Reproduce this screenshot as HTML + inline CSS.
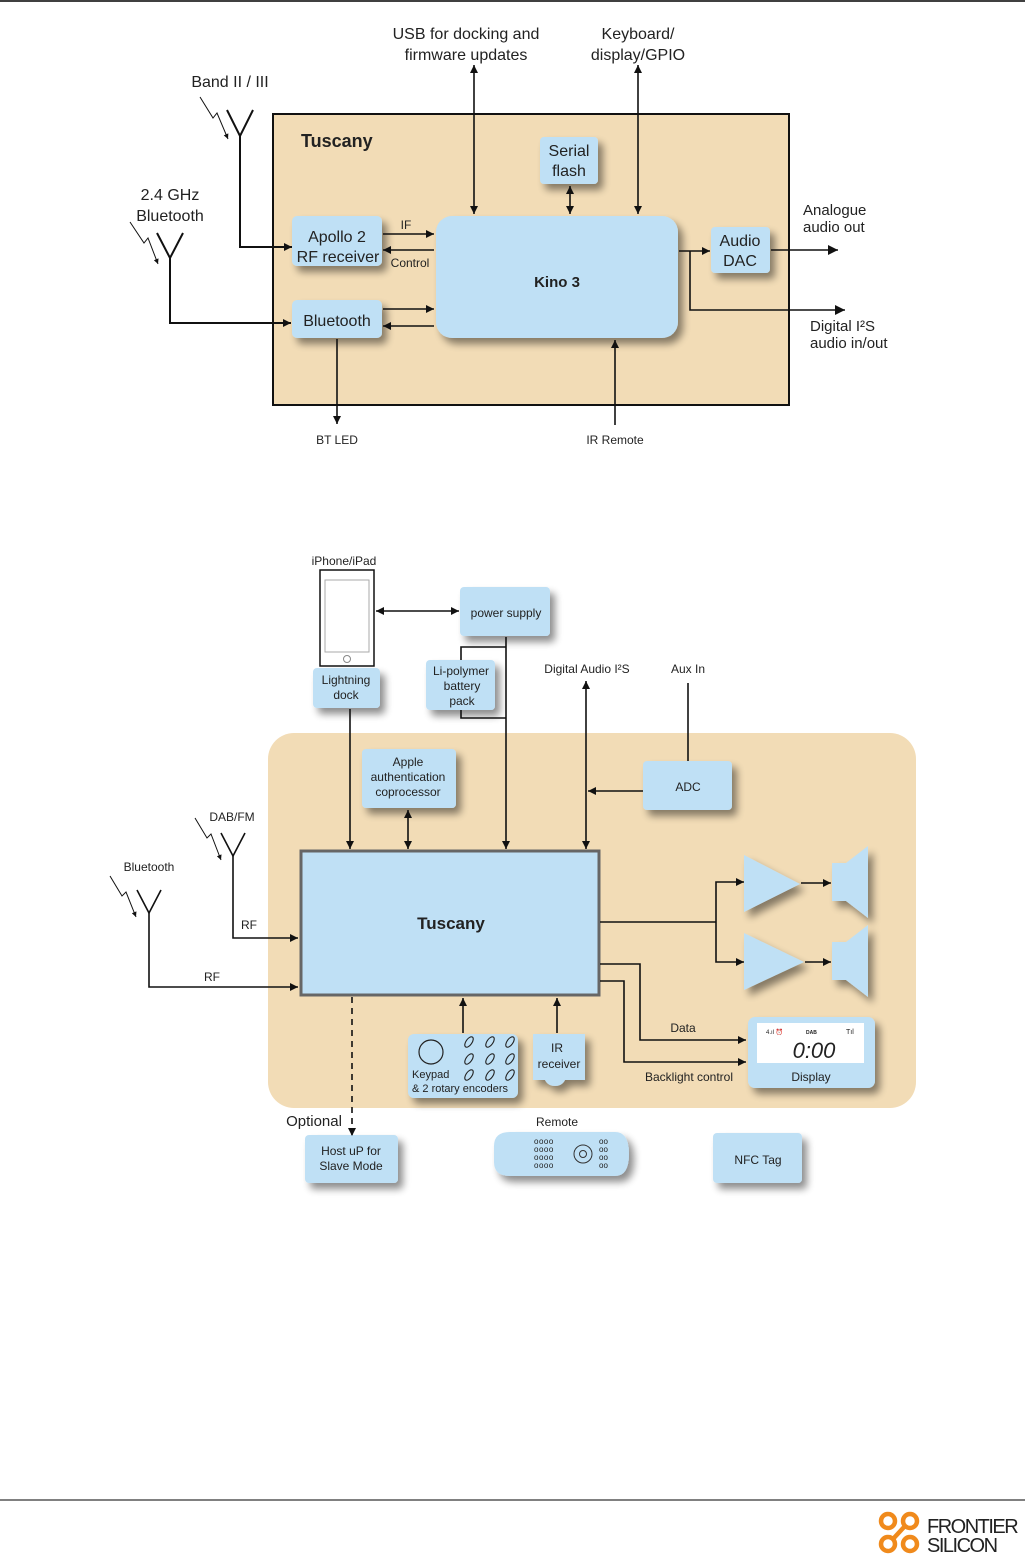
<!DOCTYPE html>
<html><head><meta charset="utf-8"><style>
html,body{margin:0;padding:0;background:#fff}
svg{display:block}
text{font-family:"Liberation Sans",sans-serif;fill:#222}
</style></head><body>
<svg width="1029" height="1555" viewBox="0 0 1029 1555" xmlns="http://www.w3.org/2000/svg">
<defs>
<filter id="sh" x="-30%" y="-30%" width="170%" height="170%">
<feGaussianBlur in="SourceAlpha" stdDeviation="4"/><feOffset dx="5" dy="6" result="b"/>
<feComponentTransfer><feFuncA type="linear" slope="0.45"/></feComponentTransfer>
<feMerge><feMergeNode/><feMergeNode in="SourceGraphic"/></feMerge></filter>
<marker id="a" viewBox="0 0 10 10" refX="10" refY="5" markerWidth="11" markerHeight="8" markerUnits="userSpaceOnUse" orient="auto-start-reverse"><path d="M0,0L10,5L0,10z" fill="#111"/></marker>
<marker id="a2" viewBox="0 0 10 10" refX="10" refY="5" markerWidth="15" markerHeight="10" markerUnits="userSpaceOnUse" orient="auto-start-reverse"><path d="M0,0L10,5L0,10z" fill="#111"/></marker>
<marker id="s" viewBox="0 0 10 10" refX="10" refY="5" markerWidth="7" markerHeight="5" markerUnits="userSpaceOnUse" orient="auto"><path d="M0,0L10,5L0,10z" fill="#111"/></marker>
</defs>
<line x1="0" y1="1" x2="1025" y2="1" stroke="#000" stroke-width="1.5"/>
<line x1="0" y1="1500" x2="1025" y2="1500" stroke="#000" stroke-width="1"/>

<!-- TOP DIAGRAM -->
<rect x="273" y="114" width="516" height="291" fill="#f2dcb6" stroke="#111" stroke-width="2"/>
<text x="301" y="147" font-size="18" font-weight="bold" fill="#111">Tuscany</text>
<g fill="#bfe0f5" filter="url(#sh)">
<rect x="436" y="216" width="242" height="122" rx="16"/>
<rect x="540" y="137" width="58" height="47" rx="4"/>
<rect x="292" y="216" width="90" height="50" rx="5"/>
<rect x="292" y="300" width="90" height="38" rx="5"/>
<rect x="711" y="227" width="59" height="46" rx="4"/>
</g>
<g font-size="16" text-anchor="middle">
<text x="557" y="287" font-weight="bold" font-size="15" fill="#111">Kino 3</text>
<text x="569" y="156">Serial</text><text x="569" y="176">flash</text>
<text x="337" y="242">Apollo 2</text><text x="338" y="262">RF receiver</text>
<text x="337" y="326">Bluetooth</text>
<text x="740" y="246">Audio</text><text x="740" y="266">DAC</text>
<text x="466" y="39">USB for docking and</text><text x="466" y="60">firmware updates</text>
<text x="638" y="39">Keyboard/</text><text x="638" y="60">display/GPIO</text>
<text x="230" y="87">Band II / III</text>
<text x="170" y="200">2.4 GHz</text><text x="170" y="221">Bluetooth</text>
</g>
<g font-size="15">
<text x="803" y="215">Analogue</text><text x="803" y="232">audio out</text>
<text x="810" y="331">Digital I²S</text><text x="810" y="348">audio in/out</text>
</g>
<g font-size="12" text-anchor="middle">
<text x="406" y="229">IF</text><text x="410" y="267">Control</text>
<text x="337" y="444">BT LED</text><text x="615" y="444">IR Remote</text>
</g>
<g stroke="#111" stroke-width="1.6" fill="none">
<line x1="474" y1="65" x2="474" y2="214" marker-start="url(#a)" marker-end="url(#a)"/>
<line x1="638" y1="65" x2="638" y2="214" marker-start="url(#a)" marker-end="url(#a)"/>
<line x1="570" y1="186" x2="570" y2="214" marker-start="url(#a)" marker-end="url(#a)"/>
<line x1="383" y1="234" x2="434" y2="234" marker-end="url(#a)"/>
<line x1="434" y1="250" x2="383" y2="250" marker-end="url(#a)"/>
<line x1="383" y1="309" x2="434" y2="309" marker-end="url(#a)"/>
<line x1="434" y1="326" x2="383" y2="326" marker-end="url(#a)"/>
<line x1="337" y1="339" x2="337" y2="424" marker-end="url(#a)"/>
<line x1="615" y1="425" x2="615" y2="340" marker-end="url(#a)"/>
<line x1="679" y1="251" x2="710" y2="251" marker-end="url(#a)"/>
<polyline points="690,251 690,310 845,310" marker-end="url(#a2)"/>
<line x1="771" y1="250" x2="838" y2="250" marker-end="url(#a2)"/>
<polyline points="240,136 240,247 292,247" marker-end="url(#a)" stroke-width="2"/>
<polyline points="227,110 240,136 253,110" stroke-width="2"/>
<polyline points="200,97 213,118 217,113 228,139" stroke-width="1" marker-end="url(#s)"/>
<polyline points="170,258 170,323 291,323" marker-end="url(#a)" stroke-width="2"/>
<polyline points="157,233 170,258 183,233" stroke-width="2"/>
<polyline points="130,222 144,243 148,238 158,264" stroke-width="1" marker-end="url(#s)"/>
</g>

<!-- BOTTOM DIAGRAM -->
<rect x="268" y="733" width="648" height="375" rx="26" fill="#f2dcb6"/>
<g fill="#bfe0f5" filter="url(#sh)">
<rect x="313" y="668" width="67" height="40" rx="4"/>
<rect x="460" y="587" width="90" height="49" rx="4"/>
<rect x="426" y="660" width="69" height="50" rx="4"/>
<rect x="362" y="749" width="94" height="59" rx="4"/>
<rect x="643" y="761" width="89" height="49" rx="4"/>
<rect x="408" y="1034" width="110" height="64" rx="6"/>
<path d="M533,1034h52v46h-20q-3,6-10,6t-10,-6h-12z"/>
<rect x="748" y="1017" width="127" height="71" rx="7"/>
<rect x="305" y="1135" width="93" height="48" rx="4"/>
<path d="M510,1132h105q14,0 14,22t-14,22h-105q-16,0-16,-14v-16q0,-14 16,-14z"/>
<rect x="713" y="1133" width="89" height="50" rx="4"/>
<path d="M744,855L800,884L744,912z"/>
<path d="M744,933L804,962L744,990z"/>
<path d="M832,863h14l22,-17v72l-22,-17h-14z"/>
<path d="M832,942h14l22,-17v72l-22,-17h-14z"/>
</g>
<rect x="301" y="851" width="298" height="144" fill="#bfe0f5" stroke="#666" stroke-width="3"/>
<rect x="320" y="570" width="54" height="96" fill="#fff" stroke="#111" stroke-width="1.5"/>
<rect x="325" y="580" width="44" height="72" fill="#fff" stroke="#aaa" stroke-width="1"/>
<circle cx="347" cy="659" r="3.5" fill="none" stroke="#888"/>
<rect x="757" y="1023" width="107" height="40" fill="#fff"/>
<text x="814" y="1058" font-size="22" text-anchor="middle" fill="#111" font-style="italic">0:00</text>
<text x="766" y="1034" font-size="6">4.ıl  ⏰</text><text x="806" y="1034" font-size="5" font-weight="bold">DAB</text><text x="846" y="1034" font-size="7">Tıl</text>
<g font-size="12" text-anchor="middle">
<text x="451" y="929" font-size="17" font-weight="bold" fill="#111">Tuscany</text>
<text x="344" y="565">iPhone/iPad</text>
<text x="346" y="684">Lightning</text><text x="346" y="699">dock</text>
<text x="506" y="617">power supply</text>
<text x="461" y="675">Li-polymer</text><text x="462" y="690">battery</text><text x="462" y="705">pack</text>
<text x="408" y="766">Apple</text><text x="408" y="781">authentication</text><text x="408" y="796">coprocessor</text>
<text x="688" y="791">ADC</text>
<text x="587" y="673">Digital Audio I²S</text>
<text x="688" y="673">Aux In</text>
<text x="232" y="821">DAB/FM</text>
<text x="149" y="871">Bluetooth</text>
<text x="249" y="929">RF</text><text x="212" y="981">RF</text>
<text x="557" y="1052">IR</text><text x="559" y="1068">receiver</text>
<text x="683" y="1032">Data</text>
<text x="689" y="1081">Backlight control</text>
<text x="811" y="1081">Display</text>
<text x="351" y="1155">Host uP for</text><text x="351" y="1170">Slave Mode</text>
<text x="557" y="1126">Remote</text>
<text x="758" y="1164">NFC Tag</text>
<text x="314" y="1126" font-size="15">Optional</text>
</g>
<text x="412" y="1078" font-size="11">Keypad</text>
<text x="412" y="1092" font-size="11">&amp; 2 rotary encoders</text>
<circle cx="431" cy="1052" r="12" fill="none" stroke="#222" stroke-width="1.2"/>
<g fill="none" stroke="#222" stroke-width="1.1">
<ellipse cx="469" cy="1042" rx="3" ry="6" transform="rotate(35 469 1042)"/><ellipse cx="490" cy="1042" rx="3" ry="6" transform="rotate(35 490 1042)"/><ellipse cx="510" cy="1042" rx="3" ry="6" transform="rotate(35 510 1042)"/>
<ellipse cx="469" cy="1059" rx="3" ry="6" transform="rotate(35 469 1059)"/><ellipse cx="490" cy="1059" rx="3" ry="6" transform="rotate(35 490 1059)"/><ellipse cx="510" cy="1059" rx="3" ry="6" transform="rotate(35 510 1059)"/>
<ellipse cx="469" cy="1075" rx="3" ry="6" transform="rotate(35 469 1075)"/><ellipse cx="490" cy="1075" rx="3" ry="6" transform="rotate(35 490 1075)"/><ellipse cx="510" cy="1075" rx="3" ry="6" transform="rotate(35 510 1075)"/>
</g>
<text x="534" y="1144" font-size="8" letter-spacing="0.5">oooo</text><text x="534" y="1152" font-size="8" letter-spacing="0.5">oooo</text><text x="534" y="1160" font-size="8" letter-spacing="0.5">oooo</text><text x="534" y="1168" font-size="8" letter-spacing="0.5">oooo</text>
<text x="599" y="1144" font-size="8">oo</text><text x="599" y="1152" font-size="8">oo</text><text x="599" y="1160" font-size="8">oo</text><text x="599" y="1168" font-size="8">oo</text>
<circle cx="583" cy="1154" r="9" fill="none" stroke="#333"/><circle cx="583" cy="1154" r="3.5" fill="none" stroke="#333"/>
<g stroke="#111" stroke-width="1.6" fill="none">
<line x1="376" y1="611" x2="459" y2="611" marker-start="url(#a)" marker-end="url(#a)"/>
<line x1="506" y1="637" x2="506" y2="849" marker-end="url(#a)"/>
<polyline points="506,647 461,647 461,660"/>
<polyline points="461,710 461,718 506,718"/>
<line x1="350" y1="709" x2="350" y2="849" marker-end="url(#a)"/>
<line x1="408" y1="810" x2="408" y2="849" marker-start="url(#a)" marker-end="url(#a)"/>
<line x1="586" y1="681" x2="586" y2="849" marker-start="url(#a)" marker-end="url(#a)"/>
<line x1="643" y1="791" x2="588" y2="791" marker-end="url(#a)"/>
<line x1="688" y1="683" x2="688" y2="761"/>
<polyline points="600,922 716,922"/>
<polyline points="744,882 716,882 716,962 744,962" marker-start="url(#a)" marker-end="url(#a)"/>
<line x1="801" y1="883" x2="831" y2="883" marker-end="url(#a)"/>
<line x1="805" y1="962" x2="831" y2="962" marker-end="url(#a)"/>
<polyline points="600,964 640,964 640,1040 746,1040" marker-end="url(#a)"/>
<polyline points="600,981 624,981 624,1062 746,1062" marker-end="url(#a)"/>
<line x1="463" y1="1033" x2="463" y2="998" marker-end="url(#a)"/>
<line x1="557" y1="1033" x2="557" y2="998" marker-end="url(#a)"/>
<line x1="352" y1="997" x2="352" y2="1136" stroke-dasharray="6,5" marker-end="url(#a)"/>
<polyline points="233,856 233,938 298,938" marker-end="url(#a)"/>
<polyline points="221,833 233,856 245,833"/>
<polyline points="195,818 207,838 211,834 221,860" stroke-width="1" marker-end="url(#s)"/>
<polyline points="149,913 149,987 298,987" marker-end="url(#a)"/>
<polyline points="137,890 149,913 161,890"/>
<polyline points="110,876 122,896 126,892 136,917" stroke-width="1" marker-end="url(#s)"/>
</g>

<!-- LOGO -->
<g fill="none" stroke="#f08a1c" stroke-width="4.5">
<circle cx="888" cy="1521" r="7"/><circle cx="910" cy="1521" r="7"/>
<circle cx="888" cy="1544" r="7"/><circle cx="910" cy="1544" r="7"/>
<line x1="893" y1="1539" x2="905" y2="1526"/>
</g>
<text x="927" y="1533" font-size="20" fill="#333" letter-spacing="-1.5">FRONTIER</text>
<text x="927" y="1552" font-size="20" fill="#333" letter-spacing="-1.5">SILICON</text>
</svg>
</body></html>
